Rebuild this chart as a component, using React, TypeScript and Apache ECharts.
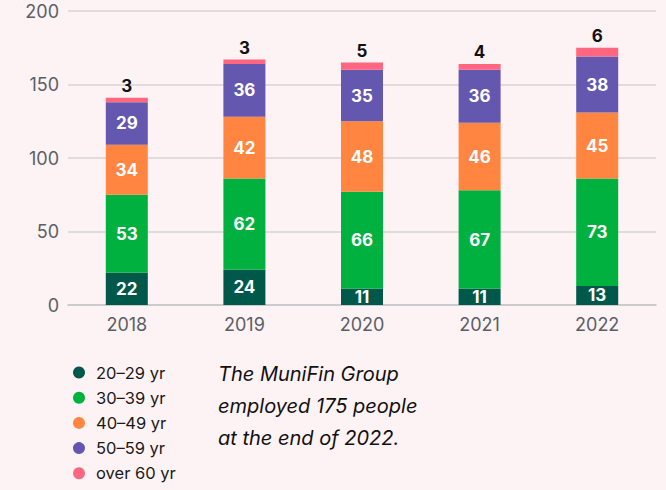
import React, { useEffect, useRef } from "react";
import * as echarts from "echarts";

const years = ["2018", "2019", "2020", "2021", "2022"];
const age20to29 = [22, 24, 11, 11, 13];
const age30to39 = [53, 62, 66, 67, 73];
const age40to49 = [34, 42, 48, 46, 45];
const age50to59 = [29, 36, 35, 36, 38];
const over60 = [3, 3, 5, 4, 6];
const seriesNames = ["20–29 yr", "30–39 yr", "40–49 yr", "50–59 yr", "over 60 yr"];
const colors = ["#00584a", "#00b140", "#ff8540", "#6357b0", "#ff6680"];
const noteLines = ["The MuniFin Group", "employed 175 people", "at the end of 2022."];

const FONT = "Inter, 'Noto Sans', sans-serif";

export default function App() {
  const ref = useRef<HTMLDivElement>(null);
  useEffect(() => {
    if (!ref.current) return;
    const chart = echarts.init(ref.current, null, { renderer: "svg" });
    const datasets = [age20to29, age30to39, age40to49, age50to59, over60];
    const series = datasets.map((d, i) => ({
      name: seriesNames[i],
      type: "bar",
      stack: "total",
      data: d,
      barWidth: 42,
      itemStyle: { color: colors[i] },
      label: {
        show: true,
        position: i === 4 ? "top" : "inside",
        color: i === 4 ? "#111" : "#fff",
        fontWeight: "bold",
        fontSize: 17,
        fontFamily: FONT,
        distance: 3,
      },
    }));
    chart.setOption({
      animation: false,
      backgroundColor: "#fdf2f4",
      textStyle: { fontFamily: FONT },
      grid: { left: 68, right: 10, top: 11, bottom: 185 },
      xAxis: {
        type: "category",
        data: years,
        axisTick: { show: false },
        axisLine: { lineStyle: { color: "#c4c4c8", width: 1.5 } },
        axisLabel: { color: "#5a5f66", fontSize: 18, margin: 10, fontFamily: FONT },
      },
      yAxis: {
        type: "value",
        min: 0,
        max: 200,
        interval: 50,
        axisLabel: { color: "#5a5f66", fontSize: 18, margin: 9, fontFamily: FONT },
        splitLine: { lineStyle: { color: "#d6d4d6", width: 1.5 } },
      },
      legend: {
        orient: "vertical",
        left: 68,
        top: 359,
        height: 200,
        icon: "circle",
        itemWidth: 12,
        itemHeight: 12,
        itemGap: 8.2,
        selectedMode: false,
        data: seriesNames,
        textStyle: {
          color: "#1a1a1a",
          fontSize: 16.5,
          fontFamily: FONT,
          padding: [0, 0, 0, 6],
        },
      },
      graphic: noteLines.map((t, i) => ({
        type: "text",
        left: 218,
        top: 364 + i * 32,
        style: {
          text: t,
          fill: "#111",
          fontSize: 20,
          fontStyle: "italic",
          fontFamily: FONT,
        },
      })),
      series,
    });
    return () => chart.dispose();
  }, []);
  return <div ref={ref} style={{ width: 666, height: 490, position: "fixed", left: 0, top: 0 }} />;
}
